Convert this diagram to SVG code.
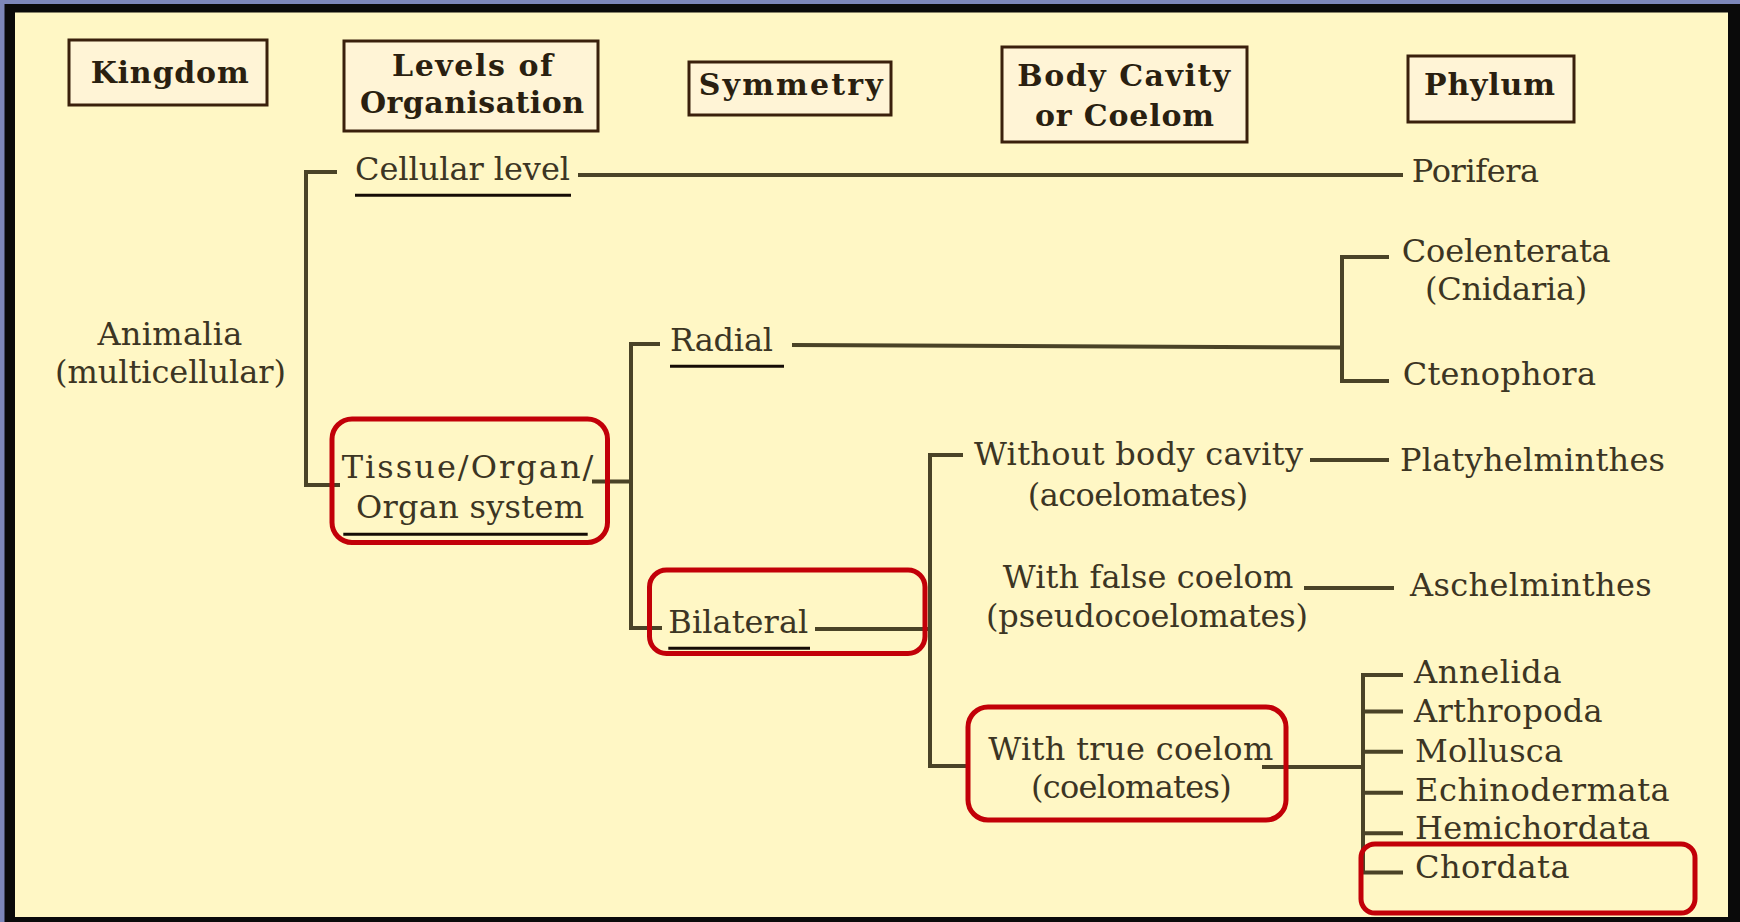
<svg xmlns="http://www.w3.org/2000/svg" width="1740" height="922" viewBox="0 0 1740 922">
<style>
.hdr{fill:#fff4d6;stroke:#3a200c;stroke-width:3}
.ht{font-family:"DejaVu Serif","Liberation Serif",serif;font-weight:bold;font-size:30px;fill:#2a1f10}
.bt{font-family:"DejaVu Serif","Liberation Serif",serif;font-size:32px;fill:#3c3523}
.ul{stroke:#150c05;stroke-width:3;fill:none}
.hl{fill:none;stroke:#c20008;stroke-width:5}
.cn{fill:none;stroke:#4a4327;stroke-width:4;stroke-linecap:square}
</style>
<rect x="0" y="0" width="1740" height="922" fill="#7d87ba"/>
<rect x="4.5" y="4" width="1735.5" height="918" fill="#0a0a0a"/>
<rect x="15" y="12.5" width="1713" height="904.5" fill="#fff7c5"/>

<g id="h-kingdom">
<rect class="hdr" x="69" y="40" width="198" height="65"/>
<text class="ht" x="90.7" y="82.5" textLength="158">Kingdom</text>
</g>
<g id="h-levels">
<rect class="hdr" x="344" y="41" width="254" height="90"/>
<text class="ht" x="392" y="75.5" textLength="161">Levels of</text>
<text class="ht" x="360" y="112.5" textLength="224">Organisation</text>
</g>
<g id="h-symmetry">
<rect class="hdr" x="689" y="62" width="202" height="53"/>
<text class="ht" x="698.7" y="95" textLength="184">Symmetry</text>
</g>
<g id="h-bodycavity">
<rect class="hdr" x="1002" y="47" width="245" height="95"/>
<text class="ht" x="1017.3" y="86" textLength="213">Body Cavity</text>
<text class="ht" x="1035" y="126" textLength="179">or Coelom</text>
</g>
<g id="h-phylum">
<rect class="hdr" x="1408" y="56" width="166" height="66"/>
<text class="ht" x="1424" y="94.5" textLength="131">Phylum</text>
</g>

<g id="connectors">
<path class="cn" d="M335,172 H306 V485 H338"/>
<path class="cn" d="M580,175 H1401"/>
<path class="cn" d="M594,481.5 H631"/>
<path class="cn" d="M658,344 H631 V628 H660"/>
<path class="cn" d="M794,345 L1341,347.5"/>
<path class="cn" d="M1387,257 H1342 V381 H1387"/>
<path class="cn" d="M817,629 H930"/>
<path class="cn" d="M961,455 H930 V766 H968"/>
<path class="cn" d="M1312,460 H1387"/>
<path class="cn" d="M1306,588 H1392"/>
<path class="cn" d="M1264,767 H1363"/>
<path class="cn" d="M1401,675 H1363 V872.5 H1401 M1363,711.5 H1401 M1363,751.7 H1401 M1363,792.7 H1401 M1363,833.3 H1401"/>
</g>

<g id="n-animalia">
<text class="bt" x="97.4" y="345" textLength="145">Animalia</text>
<text class="bt" x="55" y="383" textLength="231">(multicellular)</text>
</g>
<g id="n-cellular">
<text class="bt" x="355" y="180" textLength="215">Cellular level</text>
<line class="ul" x1="355" y1="195.3" x2="571" y2="195.3"/>
</g>
<g id="n-tissue">
<rect class="hl" x="332" y="419" width="275.5" height="123.5" rx="20"/>
<text class="bt" x="341.7" y="478.3" textLength="251.6">Tissue/Organ/</text>
<text class="bt" x="356" y="518.3" textLength="228">Organ system</text>
<line class="ul" x1="343.3" y1="534.3" x2="587.7" y2="534.3"/>
</g>
<g id="n-radial">
<text class="bt" x="670" y="350.7" textLength="103">Radial</text>
<line class="ul" x1="670" y1="366.3" x2="784" y2="366.3"/>
</g>
<g id="n-bilateral">
<rect class="hl" x="649.5" y="570" width="275.5" height="83.5" rx="17"/>
<text class="bt" x="668.3" y="633.3" textLength="140">Bilateral</text>
<line class="ul" x1="668.3" y1="648.3" x2="810" y2="648.3"/>
</g>
<g id="n-acoelomates">
<text class="bt" x="974" y="465" textLength="329">Without body cavity</text>
<text class="bt" x="1027.7" y="506" textLength="220.6">(acoelomates)</text>
</g>
<g id="n-pseudocoelomates">
<text class="bt" x="1002.7" y="588.3" textLength="290.6">With false coelom</text>
<text class="bt" x="986" y="626.7" textLength="322">(pseudocoelomates)</text>
</g>
<g id="n-coelomates">
<rect class="hl" x="968" y="707" width="318" height="113" rx="20"/>
<text class="bt" x="988.3" y="760" textLength="285">With true coelom</text>
<text class="bt" x="1031" y="798.3" textLength="200.7">(coelomates)</text>
</g>
<g id="p-porifera"><text class="bt" x="1411.8" y="181.7" textLength="127.4">Porifera</text></g>
<g id="p-coelenterata">
<text class="bt" x="1401.7" y="261.7" textLength="209">Coelenterata</text>
<text class="bt" x="1425" y="300" textLength="162.3">(Cnidaria)</text>
</g>
<g id="p-ctenophora"><text class="bt" x="1402.7" y="385" textLength="193.3">Ctenophora</text></g>
<g id="p-platyhelminthes"><text class="bt" x="1400" y="470.7" textLength="265">Platyhelminthes</text></g>
<g id="p-aschelminthes"><text class="bt" x="1410" y="595.7" textLength="241.7">Aschelminthes</text></g>
<g id="p-annelida"><text class="bt" x="1414" y="682.7" textLength="147.5">Annelida</text></g>
<g id="p-arthropoda"><text class="bt" x="1414" y="721.7" textLength="188.7">Arthropoda</text></g>
<g id="p-mollusca"><text class="bt" x="1415" y="761.7" textLength="148">Mollusca</text></g>
<g id="p-echinodermata"><text class="bt" x="1415" y="801" textLength="254.7">Echinodermata</text></g>
<g id="p-hemichordata"><text class="bt" x="1415" y="839.3" textLength="235">Hemichordata</text></g>
<g id="p-chordata">
<rect class="hl" x="1361" y="844" width="334" height="69" rx="14"/>
<text class="bt" x="1415" y="878.3" textLength="154.5">Chordata</text>
</g>
</svg>
